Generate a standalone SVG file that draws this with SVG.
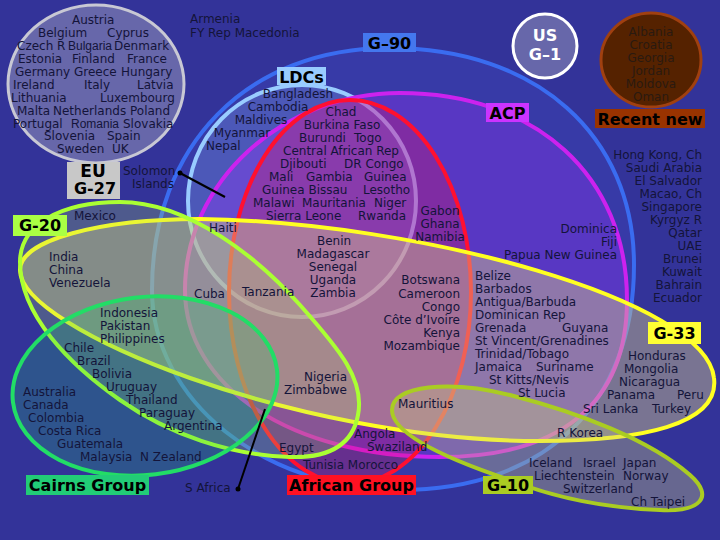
<svg xmlns="http://www.w3.org/2000/svg" width="720" height="540" viewBox="0 0 720 540">
<style>
.t{font-family:"DejaVu Sans",Verdana,sans-serif;font-size:12px;fill:#14143a}
.m{text-anchor:middle}
.e{text-anchor:end}
.n{font-family:"Liberation Sans",Arial,sans-serif;font-size:12px}
.b{font-family:"DejaVu Sans",Verdana,sans-serif;font-weight:bold;font-size:16px;fill:#000;text-anchor:middle}
.set{stroke-width:4}
</style>
<rect x="0" y="0" width="720" height="540" fill="#333399"/>
<g id="g90">
<path class="set" d="M390,48 C536,48 634,135 634,265 C634,404 545,490 400,490 C264,490 152,400 152,290 C152,145 247,48 390,48 Z" fill="#5060e8" fill-opacity="0.18" stroke="#3a6cf0"/>
<rect x="363" y="33" width="53" height="19" fill="#4477ee"/>
<text class="b" x="389.5" y="49">G–90</text>
</g>
<g id="ldcs">
<ellipse class="set" cx="302" cy="201" rx="114" ry="116" fill="#9fd0ff" fill-opacity="0.2" stroke="#99ccff"/>
<rect x="277" y="67" width="49" height="18" fill="#99ccff"/>
<text class="b" x="301.5" y="83">LDCs</text>
</g>
<g id="acp">
<path class="set" d="M400,93 C536,93 627,176 627,300 C627,402 562,457 440,457 C292,457 185,387 185,290 C185,182 282,93 400,93 Z" fill="#a033ff" fill-opacity="0.32" stroke="#cc22ee"/>
<rect x="486" y="103" width="43" height="19" fill="#cc33ff"/>
<text class="b" x="507.5" y="119">ACP</text>
</g>
<g id="african">
<ellipse class="set" cx="350" cy="292" rx="121" ry="192" fill="#f01048" fill-opacity="0.26" stroke="#ff1030"/>
<rect x="287" y="475" width="129" height="20" fill="#ff1122"/>
<text class="b" x="351.5" y="491">African Group</text>
</g>
<g id="g33">
<path class="set" d="M20,270 C20,240 100,219 200,219 C420,222 706,300 714,378 C720,425 640,441 540,441 C300,441 20,330 20,270 Z" fill="#dcd088" fill-opacity="0.42" stroke="#ffff22"/>
<rect x="648" y="322" width="53" height="22" fill="#ffff33"/>
<text class="b" x="674.5" y="339">G-33</text>
</g>
<g id="g20">
<path class="set" d="M20,262 C20,225 60,202 120,202 C190,202 260,260 300,305 C340,350 365,380 358,415 C352,448 325,458 290,457 C230,455 170,435 120,400 C70,365 20,315 20,262 Z" fill="#a8d868" fill-opacity="0.24" stroke="#aaff33"/>
<rect x="13" y="215" width="54" height="21" fill="#aaff44"/>
<text class="b" x="40" y="231">G-20</text>
</g>
<g id="cairns">
<ellipse class="set" cx="145" cy="386" rx="133" ry="89" transform="rotate(-7 145 386)" fill="#22cc66" fill-opacity="0.22" stroke="#22dd66"/>
<rect x="26" y="475" width="123" height="20" fill="#22cc77"/>
<text class="b" x="87.5" y="491">Cairns Group</text>
</g>
<g id="g10">
<path class="set" d="M392,410 C392,385 450,380 510,395 C580,413 650,440 690,475 C715,497 700,512 660,510 C610,508 560,500 510,480 C450,460 392,435 392,410 Z" fill="#c8c880" fill-opacity="0.35" stroke="#aacc22"/>
<rect x="483" y="476" width="50" height="18" fill="#aacc22"/>
<text class="b" x="508" y="491">G-10</text>
</g>
<g id="eu">
<ellipse cx="96" cy="84" rx="88" ry="79" fill="#6767aa" stroke="#c8c8d4" stroke-width="3"/>
<rect x="67" y="162" width="53" height="37" fill="#c8c8c8"/>
<text class="b" x="93" y="176.5" style="font-size:17px">EU</text>
<text class="b" x="95" y="194">G-27</text>
</g>
<g id="us">
<circle cx="545" cy="46" r="32" fill="#6767aa" stroke="#ffffff" stroke-width="3"/>
<text class="b" x="545" y="41" style="fill:#ffffff">US</text>
<text class="b" x="545" y="60" style="fill:#ffffff">G–1</text>
</g>
<g id="recent">
<ellipse cx="651" cy="60" rx="50" ry="47" fill="#552200" stroke="#a04010" stroke-width="3"/>
<rect x="595" y="109" width="110" height="19" fill="#993300"/>
<text class="b" x="650" y="125">Recent new</text>
</g>
<g id="connectors" stroke="#000" stroke-width="2" fill="#000">
<line x1="180" y1="173" x2="225" y2="197"/>
<circle cx="180" cy="173" r="2.5" stroke="none"/>
<line x1="238" y1="489" x2="265" y2="409"/>
<circle cx="238" cy="489" r="2.5" stroke="none"/>
</g>
<g id="members" class="t">
<text class="t" x="72" y="23.5">Austria</text>
<text class="t" x="38" y="37">Belgium</text><text class="t" x="107" y="37">Cyprus</text>
<text class="t" x="17" y="50">Czech R</text><text class="t n" x="68" y="50">Bulgaria</text><text class="t" x="114" y="50">Denmark</text>
<text class="t" x="18" y="63">Estonia</text><text class="t" x="72" y="63">Finland</text><text class="t" x="127" y="63">France</text>
<text class="t" x="15" y="76">Germany</text><text class="t" x="74" y="76">Greece</text><text class="t" x="121" y="76">Hungary</text>
<text class="t" x="13" y="89">Ireland</text><text class="t" x="84" y="89">Italy</text><text class="t" x="137" y="89">Latvia</text>
<text class="t" x="11" y="102">Lithuania</text><text class="t" x="100" y="102">Luxembourg</text>
<text class="t" x="17" y="114.5">Malta</text><text class="t" x="53" y="114.5">Netherlands</text><text class="t" x="130" y="114.5">Poland</text>
<text class="t" x="13" y="127.5">Portugal</text><text class="t n" x="71" y="127.5">Romania</text><text class="t" x="123" y="127.5">Slovakia</text>
<text class="t" x="44" y="140">Slovenia</text><text class="t" x="107" y="140">Spain</text>
<text class="t" x="57" y="153">Sweden</text><text class="t" x="112" y="153">UK</text>
<text class="t" x="190" y="23">Armenia</text>
<text class="t" x="190" y="37">FY Rep Macedonia</text>
<text class="t" x="123" y="175">Solomon</text>
<text class="t" x="132" y="188">Islands</text>
<text class="t m" x="298" y="97.5">Bangladesh</text>
<text class="t m" x="278" y="111">Cambodia</text>
<text class="t m" x="261" y="123.5">Maldives</text>
<text class="t m" x="242" y="136.5">Myanmar</text>
<text class="t" x="206" y="150">Nepal</text>
<text class="t m" x="341" y="116">Chad</text>
<text class="t m" x="342" y="128.5">Burkina Faso</text>
<text class="t" x="299" y="142">Burundi</text><text class="t" x="354" y="142">Togo</text>
<text class="t m" x="341" y="155">Central African Rep</text>
<text class="t" x="280" y="168">Djibouti</text><text class="t" x="344" y="168">DR Congo</text>
<text class="t" x="269" y="181">Mali</text><text class="t" x="306" y="181">Gambia</text><text class="t" x="364" y="181">Guinea</text>
<text class="t" x="262" y="194">Guinea Bissau</text><text class="t" x="363" y="194">Lesotho</text>
<text class="t" x="253" y="207">Malawi</text><text class="t" x="302" y="207">Mauritania</text><text class="t" x="374" y="207">Niger</text>
<text class="t" x="266" y="220">Sierra Leone</text><text class="t" x="358" y="220">Rwanda</text>
<text class="t m" x="440" y="215">Gabon</text>
<text class="t m" x="440" y="228">Ghana</text>
<text class="t m" x="440" y="241">Namibia</text>
<text class="t" x="209" y="232">Haiti</text>
<text class="t m" x="334" y="245">Benin</text>
<text class="t m" x="333" y="258">Madagascar</text>
<text class="t m" x="333" y="271">Senegal</text>
<text class="t m" x="333" y="284">Uganda</text>
<text class="t m" x="333" y="297">Zambia</text>
<text class="t" x="242" y="296">Tanzania</text>
<text class="t" x="194" y="298">Cuba</text>
<text class="t e" x="460" y="284">Botswana</text>
<text class="t e" x="460" y="297.5">Cameroon</text>
<text class="t e" x="460" y="310.5">Congo</text>
<text class="t e" x="460" y="323.5">Côte d’Ivoire</text>
<text class="t e" x="460" y="336.5">Kenya</text>
<text class="t e" x="460" y="349.5">Mozambique</text>
<text class="t e" x="347" y="381">Nigeria</text>
<text class="t e" x="347" y="394">Zimbabwe</text>
<text class="t" x="398" y="408">Mauritius</text>
<text class="t" x="354" y="438">Angola</text>
<text class="t" x="367" y="451">Swaziland</text>
<text class="t" x="279" y="451.5">Egypt</text>
<text class="t" x="303" y="469">Tunisia Morocco</text>
<text class="t" x="185" y="491.5">S Africa</text>
<text class="t e" x="702" y="159">Hong Kong, Ch</text>
<text class="t e" x="702" y="172">Saudi Arabia</text>
<text class="t e" x="702" y="185">El Salvador</text>
<text class="t e" x="702" y="198">Macao, Ch</text>
<text class="t e" x="702" y="211">Singapore</text>
<text class="t e" x="702" y="224">Kyrgyz R</text>
<text class="t e" x="702" y="237">Qatar</text>
<text class="t e" x="702" y="250">UAE</text>
<text class="t e" x="702" y="263">Brunei</text>
<text class="t e" x="702" y="276">Kuwait</text>
<text class="t e" x="702" y="289">Bahrain</text>
<text class="t e" x="702" y="302">Ecuador</text>
<text class="t e" x="617" y="233">Dominica</text>
<text class="t e" x="617" y="246">Fiji</text>
<text class="t e" x="617" y="259">Papua New Guinea</text>
<text class="t" x="475" y="279.5">Belize</text>
<text class="t" x="475" y="292.5">Barbados</text>
<text class="t" x="475" y="305.5">Antigua/Barbuda</text>
<text class="t" x="475" y="318.5">Dominican Rep</text>
<text class="t" x="475" y="331.5">Grenada</text><text class="t" x="562" y="331.5">Guyana</text>
<text class="t" x="475" y="344.5">St Vincent/Grenadines</text>
<text class="t" x="475" y="357.5">Trinidad/Tobago</text>
<text class="t" x="475" y="370.5">Jamaica</text><text class="t" x="536" y="370.5">Suriname</text>
<text class="t" x="489" y="383.5">St Kitts/Nevis</text>
<text class="t" x="518" y="396.5">St Lucia</text>
<text class="t" x="628" y="360">Honduras</text>
<text class="t" x="624" y="373">Mongolia</text>
<text class="t" x="619" y="386">Nicaragua</text>
<text class="t" x="607" y="399">Panama</text><text class="t" x="677" y="399">Peru</text>
<text class="t" x="583" y="412.5">Sri Lanka</text><text class="t" x="652" y="412.5">Turkey</text>
<text class="t" x="557" y="436.5">R Korea</text>
<text class="t" x="529" y="467">Iceland</text><text class="t" x="583" y="467">Israel</text><text class="t" x="623" y="467">Japan</text>
<text class="t" x="534" y="480">Liechtenstein</text><text class="t" x="623" y="480">Norway</text>
<text class="t" x="563" y="493">Switzerland</text>
<text class="t" x="631" y="506">Ch Taipei</text>
<text class="t" x="74" y="220">Mexico</text>
<text class="t" x="49" y="261">India</text>
<text class="t" x="49" y="274">China</text>
<text class="t" x="49" y="287">Venezuela</text>
<text class="t" x="100" y="317">Indonesia</text>
<text class="t" x="100" y="330">Pakistan</text>
<text class="t" x="100" y="343">Philippines</text>
<text class="t" x="64" y="352">Chile</text>
<text class="t" x="77" y="365">Brazil</text>
<text class="t" x="92" y="378">Bolivia</text>
<text class="t" x="106" y="391">Uruguay</text>
<text class="t" x="126" y="404">Thailand</text>
<text class="t" x="139" y="417">Paraguay</text>
<text class="t" x="164" y="430">Argentina</text>
<text class="t" x="23" y="396">Australia</text>
<text class="t" x="23" y="409">Canada</text>
<text class="t" x="28" y="422">Colombia</text>
<text class="t" x="38" y="435">Costa Rica</text>
<text class="t" x="57" y="448">Guatemala</text>
<text class="t" x="80" y="461">Malaysia</text><text class="t" x="140" y="461">N Zealand</text>
<text class="t m" x="651" y="36" style="fill:#2a1a10">Albania</text>
<text class="t m" x="651" y="49" style="fill:#2a1a10">Croatia</text>
<text class="t m" x="651" y="62" style="fill:#2a1a10">Georgia</text>
<text class="t m" x="651" y="75" style="fill:#2a1a10">Jordan</text>
<text class="t m" x="651" y="88" style="fill:#2a1a10">Moldova</text>
<text class="t m" x="651" y="101" style="fill:#2a1a10">Oman</text>
</g>
</svg>
